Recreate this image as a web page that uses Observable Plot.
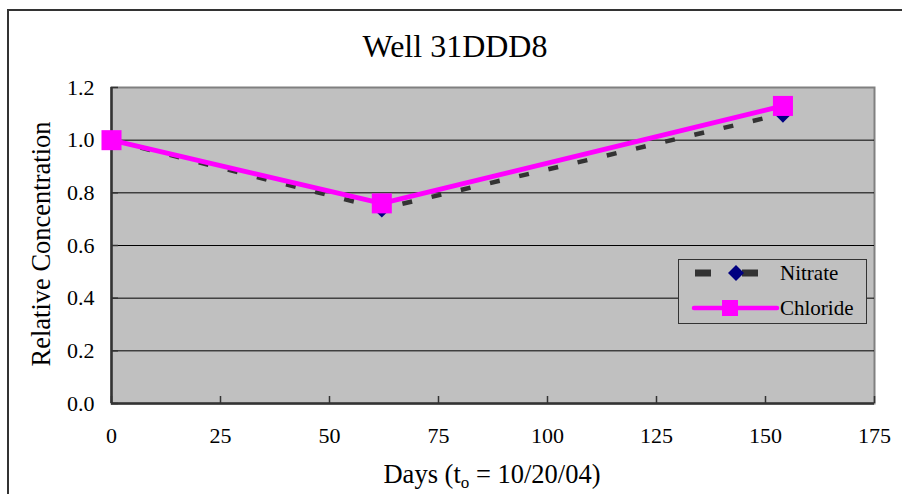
<!DOCTYPE html>
<html>
<head>
<meta charset="utf-8">
<script src="https://cdn.jsdelivr.net/npm/d3@7"></script>
<script src="https://cdn.jsdelivr.net/npm/@observablehq/plot@0.6"></script>
<style>
  html, body { margin: 0; padding: 0; background: #fff; }
  #wrap { position: relative; width: 902px; height: 494px; overflow: hidden; background: #fff;
          font-family: "Liberation Serif", "DejaVu Serif", serif; color: #000; }
  #wrap svg { position: absolute; left: 0; top: 0; }
  .abs { position: absolute; white-space: nowrap; line-height: 1; font-family: "Liberation Serif", "DejaVu Serif", serif; }
</style>
</head>
<body>
<div id="wrap">
  <div class="abs" style="left:7px;top:9px;width:1000px;height:1000px;border:2px solid #333;"></div>
</div>
<script>
// ---- data ----
const days = [0, 62, 154];
const nitrateValues = [1.00, 0.74, 1.10];
const chlorideValues = [1.00, 0.76, 1.13];
const xTicks = [0, 25, 50, 75, 100, 125, 150, 175];
const yTicks = [0, 0.2, 0.4, 0.6, 0.8, 1.0, 1.2];
const seriesNames = ["Nitrate", "Chloride"];
const titleText = "Well 31DDD8";
const yLabelText = "Relative Concentration";

const nitrate = days.map((d, i) => ({day: d, value: nitrateValues[i]}));
const chloride = days.map((d, i) => ({day: d, value: chlorideValues[i]}));

const W = 902, H = 494;
const mL = 111, mR = 28, mT = 87, mB = 91;
const plotW = W - mL - mR, plotH = H - mT - mB;
const FONT = "'Liberation Serif', 'DejaVu Serif', serif";

const chart = Plot.plot({
  width: W, height: H,
  marginLeft: mL, marginRight: mR, marginTop: mT, marginBottom: mB,
  style: {fontFamily: FONT, fontSize: "22px", color: "#000", background: "transparent"},
  x: {domain: [0, 175]},
  y: {domain: [0, 1.2]},
  marks: [
    Plot.frame({fill: "#C0C0C0", stroke: "#808080", strokeWidth: 2}),
    Plot.ruleY(yTicks.filter(v => v > 0 && v < 1.2), {stroke: "#000", strokeWidth: 1}),
    Plot.ruleX([0], {stroke: "#333", strokeWidth: 2.5}),
    Plot.ruleY([0], {stroke: "#333", strokeWidth: 2.5}),
    Plot.ruleX(xTicks, {stroke: "#333", strokeWidth: 1.5, insetTop: plotH - 7}),
    Plot.ruleY(yTicks, {stroke: "#333", strokeWidth: 1.5, insetRight: plotW - 7}),
    Plot.axisX({ticks: xTicks, tickSize: 0, tickPadding: 24, tickFormat: d3.format("d"), label: null, fontSize: 22, fontFamily: FONT}),
    Plot.axisY({ticks: yTicks, tickSize: 0, tickPadding: 17, tickFormat: d3.format(".1f"), label: null, fontSize: 22, fontFamily: FONT}),
    Plot.line(nitrate, {x: "day", y: "value", stroke: "#333", strokeWidth: 4.5, strokeDasharray: "10,20", strokeLinecap: "butt"}),
    Plot.dot(nitrate, {x: "day", y: "value", symbol: "diamond2", r: 8, fill: "#000080", stroke: "none"}),
    Plot.line(chloride, {x: "day", y: "value", stroke: "#FF00FF", strokeWidth: 5}),
    Plot.dot(chloride, {x: "day", y: "value", symbol: "square", r: 11.3, fill: "#FF00FF", stroke: "none"})
  ]
});
const wrap = document.getElementById("wrap");
wrap.appendChild(chart);

function addDiv(html, style) {
  const d = document.createElement("div");
  d.className = "abs";
  d.innerHTML = html;
  d.setAttribute("style", style);
  wrap.appendChild(d);
  return d;
}
// title
addDiv(titleText, "left:455px;top:46px;transform:translate(-50%,-50%);font-size:32px;");
// y label
addDiv(yLabelText, "left:41px;top:244px;transform:translate(-50%,-50%) rotate(-90deg);font-size:26.5px;");
// x label
addDiv("Days (t<sub style='font-size:17px;vertical-align:-5px;line-height:0;'>o</sub> = 10/20/04)", "left:492px;top:474px;transform:translate(-50%,-50%);font-size:26.5px;");

// legend
const leg = addDiv("", "left:678px;top:259px;width:189px;height:65px;background:#C0C0C0;border:1.5px solid #333;box-sizing:border-box;");
leg.innerHTML =
  `<svg width="189" height="65" style="position:absolute;left:0;top:0;">
     <line x1="16" y1="13" x2="80" y2="13" stroke="#333" stroke-width="7" stroke-dasharray="16,31"/>
     <path d="M57,5 L65,13 L57,21 L49,13 Z" fill="#000080"/>
     <line x1="15" y1="48" x2="98" y2="48" stroke="#FF00FF" stroke-width="4.5" stroke-linecap="round"/>
     <rect x="43" y="40" width="16" height="16" fill="#FF00FF"/>
   </svg>
   <div class="abs" style="left:101px;top:13px;transform:translateY(-50%);font-size:21px;">${seriesNames[0]}</div>
   <div class="abs" style="left:101px;top:48px;transform:translateY(-50%);font-size:21px;">${seriesNames[1]}</div>`;
</script>
</body>
</html>
